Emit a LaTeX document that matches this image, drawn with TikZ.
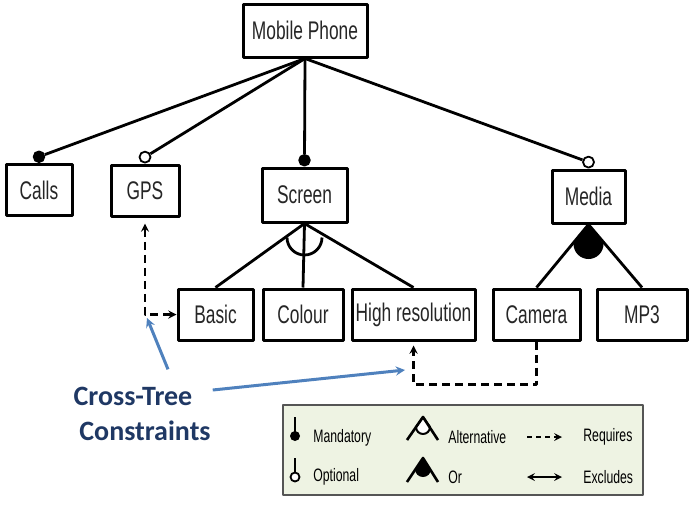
\documentclass[tikz,border=0pt]{standalone}
\usepackage{fontspec}
\usepackage{tikz}
\usetikzlibrary{arrows, calc, positioning}

\newfontfamily\narrowsans[FakeStretch=0.68]{Liberation Sans}
\newfontfamily\calibri{Carlito}

\definecolor{ctcblue}{HTML}{1F3864}
\definecolor{arrowblue}{HTML}{4F81BD}
\definecolor{legendgreen}{HTML}{EEF3E3}
\definecolor{legendgray}{HTML}{555555}

\begin{document}
\begin{tikzpicture}[
            x = 1pt, y = -1pt, % pixel grid, y runs down
            > = stealth, % arrow head style
            line width = 2.8pt, % line style
            line join = round
        ]

        \tikzstyle{feature}=[
            draw = black,
            line width = 3pt,
            fill = white,
            inner sep = 0pt,
            minimum height = 51pt,
            text = black!85,
            font = \narrowsans\fontsize{25.5}{28}\selectfont
        ]
        \tikzstyle{mandatory}=[circle, draw, fill = black, line width = 1.5pt, minimum size = 11pt, inner sep = 0pt]
        \tikzstyle{optional}=[circle, draw, fill = white, line width = 1.8pt, minimum size = 11pt, inner sep = 0pt]
        \tikzstyle{requires}=[dash pattern = on 8pt off 5pt, line width = 2.6pt]
        \tikzstyle{legendtext}=[anchor = west, inner sep = 0pt, font = \narrowsans\fontsize{18}{20}\selectfont]
        \tikzstyle{ctc}=[text = ctcblue, inner sep = 0pt, font = \calibri\bfseries\fontsize{28}{32}\selectfont]
        \tikzstyle{ctcarrow}=[->, draw = arrowblue, line width = 3pt]

        \useasboundingbox (0,0) rectangle (698,507);

        % features
        \node[feature, minimum width = 124pt, minimum height = 53pt] (phone) at (305,30.5) {Mobile Phone};
        \node[feature, minimum width = 66pt] (calls) at (39,190) {Calls};
        \node[feature, minimum width = 68pt] (gps) at (145,190.5) {GPS};
        \node[feature, minimum width = 85pt, minimum height = 54pt] (screen) at (304.5,195) {Screen};
        \node[feature, minimum width = 73pt, minimum height = 53pt] (media) at (588.5,196.5) {Media};

        \node[feature, minimum width = 75pt] (basic) at (215.5,314.5) {Basic};
        \node[feature, minimum width = 80pt] (colour) at (303,314.5) {Colour};
        \node[feature, minimum width = 123pt] (hr) at (413.5,314.5) {High resolution};
        \node[feature, minimum width = 87pt] (camera) at (536.5,314.5) {Camera};
        \node[feature, minimum width = 90pt] (mp3) at (642,314.5) {MP3};

        % mandatory / optional ends
        \node[mandatory, above = 0pt of calls] (callsm) {};
        \node[optional, above = 0pt of gps] (gpso) {};
        \node[mandatory, above = 0pt of screen] (screenm) {};
        \node[optional, above = 0pt of media] (mediao) {};

        \draw (phone.south) -- (callsm);
        \draw (phone.south) -- (gpso);
        \draw (phone.south) -- (screenm);
        \draw (phone.south) -- (mediao);

        % alternative group
        \draw (screen.south) -- (basic.north);
        \draw (screen.south) -- (colour.north);
        \draw (screen.south) -- (hr.north);
        \draw ($(screen.south)+(-17.5,14)$) arc[start angle = 180, end angle = 0, radius = 17.5];

        % or group
        \draw (media.south) -- (camera.north);
        \draw (media.south) -- (mp3.north);
        \fill (media.south) -- ++(-15,19.5) arc[start angle = 180, end angle = 0, radius = 15] -- cycle;

        % cross-tree constraints
        \draw[requires, <->, shorten < = 6pt] (gps.south) |- (basic.west);
        \draw[requires, ->, shorten > = 4pt] (camera.south) -- ++(0,43) -| (hr.south);

        \node[ctc] (cross) at (133,396) {Cross-Tree};
        \node[ctc] (constr) at (145,431) {Constraints};
        \coordinate (gpsbasic) at (147,318);
        \coordinate (camhr) at (405,370);
        \draw[ctcarrow] ($(cross.north)+(35,-16)$) -- (gpsbasic);
        \draw[ctcarrow] ($(cross.east)+(19,-6)$) -- (camhr);

        % legend
        \node[draw = legendgray, fill = legendgreen, line width = 2.2pt,
              minimum width = 360pt, minimum height = 90pt, inner sep = 0pt] (legend) at (463,450) {};

        \draw[line width = 2.4pt] (295,417) -- (295,432);
        \fill (295,436) circle (5);
        \draw[line width = 2.4pt] (295,458) -- (295,472);
        \draw[line width = 1.8pt, fill = white] (295,477) circle (4.5);
        \node[legendtext] (lmand) at (312,438) {Mandatory};
        \node[legendtext] (lopt) at (312,477) {Optional};

        \draw[line width = 2pt, fill = white] (423,417) -- ++(-7,10) arc[start angle = 180, end angle = 0, radius = 7] -- cycle;
        \draw[line width = 2.6pt] (407,440) -- (423,417) -- (438,440);
        \fill (423,458) -- ++(-8,11) arc[start angle = 180, end angle = 0, radius = 8] -- cycle;
        \draw[line width = 2.6pt] (407,482) -- (423,458) -- (438,482);
        \node[legendtext] (lalt) at (447,437) {Alternative};
        \node[legendtext] (lor) at (447,477) {Or};

        \draw[->, line width = 2.4pt, dash pattern = on 5pt off 4pt] (527,437) -- (562,437);
        \draw[<->, line width = 2.4pt] (527,477) -- (562,477);
        \node[legendtext] (lreq) at (582,437) {Requires};
        \node[legendtext] (lexc) at (582,477) {Excludes};

  \end{tikzpicture}
\end{document}
